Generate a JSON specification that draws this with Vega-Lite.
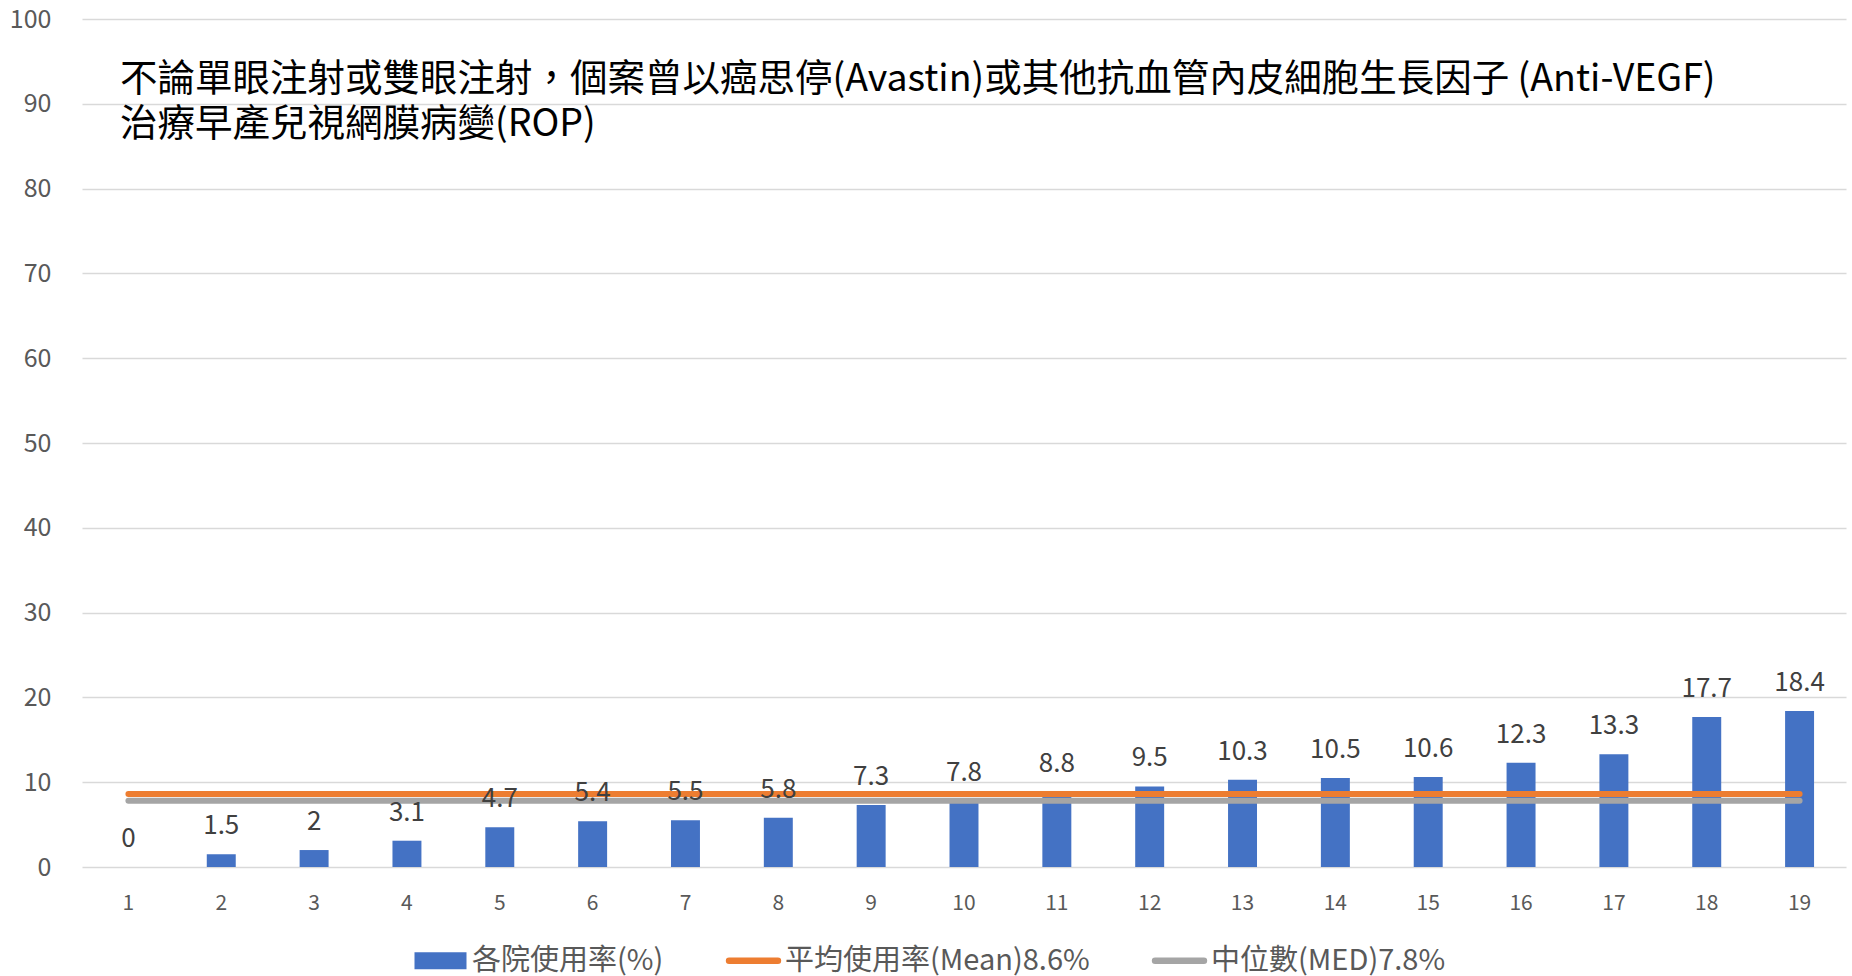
{
  "$schema": "https://vega.github.io/schema/vega-lite/v6.json",
  "autosize": {"type": "none"},
  "width": 1764,
  "height": 848,
  "padding": {"left": 82, "top": 19, "right": 6, "bottom": 109},
  "background": "white",
  "config": {"view": {"stroke": null}, "font": "Noto Sans CJK TC"},
  "title": {
    "text": ["不論單眼注射或雙眼注射，個案曾以癌思停(Avastin)或其他抗血管內皮細胞生長因子 (Anti-VEGF)", "治療早產兒視網膜病變(ROP)"],
    "anchor": "start",
    "frame": "group",
    "orient": "top",
    "font": "Noto Sans CJK TC",
    "fontSize": 37.5,
    "fontWeight": "normal",
    "color": "#000000",
    "lineHeight": 45,
    "baseline": "bottom",
    "offset": 0,
    "dx": 38,
    "dy": 174
  },
  "data": {
    "values": [
      {"hospital": "1", "rate": 0, "mean": 8.6, "median": 7.8},
      {"hospital": "2", "rate": 1.5, "mean": 8.6, "median": 7.8},
      {"hospital": "3", "rate": 2, "mean": 8.6, "median": 7.8},
      {"hospital": "4", "rate": 3.1, "mean": 8.6, "median": 7.8},
      {"hospital": "5", "rate": 4.7, "mean": 8.6, "median": 7.8},
      {"hospital": "6", "rate": 5.4, "mean": 8.6, "median": 7.8},
      {"hospital": "7", "rate": 5.5, "mean": 8.6, "median": 7.8},
      {"hospital": "8", "rate": 5.8, "mean": 8.6, "median": 7.8},
      {"hospital": "9", "rate": 7.3, "mean": 8.6, "median": 7.8},
      {"hospital": "10", "rate": 7.8, "mean": 8.6, "median": 7.8},
      {"hospital": "11", "rate": 8.8, "mean": 8.6, "median": 7.8},
      {"hospital": "12", "rate": 9.5, "mean": 8.6, "median": 7.8},
      {"hospital": "13", "rate": 10.3, "mean": 8.6, "median": 7.8},
      {"hospital": "14", "rate": 10.5, "mean": 8.6, "median": 7.8},
      {"hospital": "15", "rate": 10.6, "mean": 8.6, "median": 7.8},
      {"hospital": "16", "rate": 12.3, "mean": 8.6, "median": 7.8},
      {"hospital": "17", "rate": 13.3, "mean": 8.6, "median": 7.8},
      {"hospital": "18", "rate": 17.7, "mean": 8.6, "median": 7.8},
      {"hospital": "19", "rate": 18.4, "mean": 8.6, "median": 7.8}
    ]
  },
  "encoding": {
    "x": {
      "field": "hospital",
      "type": "ordinal",
      "sort": null,
      "scale": {"paddingInner": 0.688, "paddingOuter": 0.344},
      "axis": {
        "title": null,
        "labelAngle": 0,
        "domain": false,
        "ticks": false,
        "labelPadding": 25,
        "labelFont": "Noto Sans CJK TC",
        "labelFontSize": 21,
        "labelColor": "#595959"
      }
    }
  },
  "layer": [
    {
      "mark": {"type": "bar", "color": "#4472C4"},
      "encoding": {
        "y": {
          "field": "rate",
          "type": "quantitative",
          "scale": {"domain": [0, 100], "nice": false},
          "axis": {
            "title": null,
            "values": [0, 10, 20, 30, 40, 50, 60, 70, 80, 90, 100],
            "domain": false,
            "ticks": false,
            "grid": true,
            "gridColor": "#d9d9d9",
            "gridWidth": 1.5,
            "labelPadding": 31,
            "labelFont": "Noto Sans CJK TC",
            "labelFontSize": 25,
            "labelColor": "#595959"
          }
        },
        "color": {
          "datum": "各院使用率(%)",
          "type": "nominal",
          "scale": {
            "domain": ["各院使用率(%)", "平均使用率(Mean)8.6%", "中位數(MED)7.8%"],
            "range": ["#4472C4", "#ED7D31", "#A5A5A5"]
          },
          "legend": {
            "orient": "none",
            "legendX": 344,
            "legendY": 927,
            "direction": "horizontal",
            "title": null,
            "padding": 0,
            "labelFont": "Noto Sans CJK TC",
            "labelFontSize": 29,
            "labelColor": "#595959",
            "labelOffset": 17,
            "labelLimit": 1000,
            "columnPadding": 52,
            "symbolSize": 2704,
            "encode": {
              "symbols": {
                "update": {
                  "shape": {"signal": "datum.value === '各院使用率(%)' ? 'M-1,-0.33H1V0.33H-1Z' : 'M-0.94,0H0.94'"},
                  "fill": {"signal": "datum.value === '各院使用率(%)' ? '#4472C4' : 'transparent'"},
                  "stroke": {"signal": "scale('color', datum.value)"},
                  "strokeWidth": {"signal": "datum.value === '各院使用率(%)' ? 0 : 6.5"},
                  "strokeCap": {"value": "round"},
                  "opacity": {"value": 1}
                }
              }
            }
          }
        }
      }
    },
    {
      "mark": {"type": "line", "strokeWidth": 6, "strokeCap": "round"},
      "encoding": {
        "y": {"field": "median", "type": "quantitative"},
        "color": {"datum": "中位數(MED)7.8%", "type": "nominal"}
      }
    },
    {
      "mark": {"type": "line", "strokeWidth": 6, "strokeCap": "round"},
      "encoding": {
        "y": {"field": "mean", "type": "quantitative"},
        "color": {"datum": "平均使用率(Mean)8.6%", "type": "nominal"}
      }
    },
    {
      "mark": {"type": "text", "dy": -20, "baseline": "alphabetic", "fontSize": 26, "color": "#404040", "font": "Noto Sans CJK TC"},
      "encoding": {
        "y": {"field": "rate", "type": "quantitative"},
        "text": {"field": "rate", "type": "quantitative"}
      }
    }
  ]
}
